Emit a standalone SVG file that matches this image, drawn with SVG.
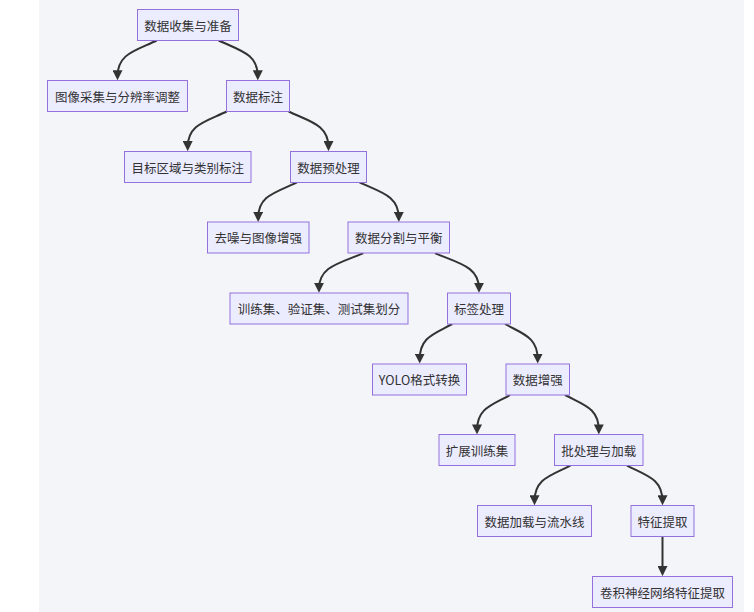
<svg xmlns="http://www.w3.org/2000/svg" width="754" height="612" viewBox="0 0 754 612">
<defs>
<style>
.bg{fill:#f4f5f8}
.node rect{fill:#ececff;stroke:#9370db;stroke-width:1}
.node text{font-family:"Noto Sans CJK SC","Noto Sans",sans-serif;font-size:12.5px;fill:#333;text-anchor:middle;dominant-baseline:central}
.edge{fill:none;stroke:#333;stroke-width:2;marker-end:url(#arr)}
</style>
<marker id="arr" viewBox="0 0 10 10" refX="6" refY="5" markerWidth="10" markerHeight="10" markerUnits="userSpaceOnUse" orient="auto">
<path d="M0,0 L10,5 L0,10 z" fill="#333"/>
</marker>
</defs>
<rect class="bg" x="39" y="0" width="705" height="612"/>
<g id="edges">
<path class="edge" d="M156.7,40.5 C136,50.5 117.5,53.5 117.5,76.3"/>
<path class="edge" d="M218.7,40.5 C239.5,50.5 257.8,53.5 257.8,76.3"/>
<path class="edge" d="M226.7,111.5 C206,121.5 187.7,124.5 187.7,147.1"/>
<path class="edge" d="M288.7,111.5 C309.5,121.5 328.5,124.5 328.5,147.1"/>
<path class="edge" d="M297,182.4 C276,192.4 258.2,195.4 258.2,217.9"/>
<path class="edge" d="M359.5,182.4 C380.5,192.4 398.8,195.4 398.8,217.9"/>
<path class="edge" d="M363.3,253.2 C340,263.2 319,266.2 319,288.8"/>
<path class="edge" d="M435,253.2 C458,263.2 479,266.2 479,288.8"/>
<path class="edge" d="M452.3,324 C434,334 419.7,337 419.7,359.6"/>
<path class="edge" d="M505,324 C523,334 537.7,337 537.7,359.6"/>
<path class="edge" d="M510,395 C492,405 477,408 477,430.4"/>
<path class="edge" d="M565,395 C584,405 598.8,408 598.8,430.4"/>
<path class="edge" d="M570.3,465.7 C550.5,475.7 534.5,478.7 534.5,501.3"/>
<path class="edge" d="M627,465.7 C646.5,475.7 662.5,478.7 662.5,501.3"/>
<path class="edge" d="M662.5,536.6 L662.5,572.1"/>
</g>
<g id="n1" class="node"><rect x="137.5" y="9.5" width="101" height="31"/><text x="188" y="25">数据收集与准备</text></g>
<g id="n2" class="node"><rect x="47.5" y="80.5" width="140" height="31"/><text x="117.5" y="96">图像采集与分辨率调整</text></g>
<g id="n3" class="node"><rect x="226.5" y="80.5" width="63" height="31"/><text x="258" y="96">数据标注</text></g>
<g id="n4" class="node"><rect x="124.5" y="151.5" width="126.5" height="31"/><text x="187.7" y="167">目标区域与类别标注</text></g>
<g id="n5" class="node"><rect x="290.5" y="151.5" width="76" height="31"/><text x="328.5" y="167">数据预处理</text></g>
<g id="n6" class="node"><rect x="207.5" y="222" width="101.5" height="31"/><text x="258.2" y="237.5">去噪与图像增强</text></g>
<g id="n7" class="node"><rect x="348" y="222" width="101.5" height="31"/><text x="398.8" y="237.5">数据分割与平衡</text></g>
<g id="n8" class="node"><rect x="230" y="293" width="178" height="31"/><text x="319" y="308.5">训练集、验证集、测试集划分</text></g>
<g id="n9" class="node"><rect x="447.5" y="293" width="63" height="31"/><text x="479" y="308.5">标签处理</text></g>
<g id="n10" class="node"><rect x="372.5" y="364" width="94" height="31"/><text x="419.5" y="379.5">YOLO格式转换</text></g>
<g id="n11" class="node"><rect x="506" y="364" width="63.5" height="31"/><text x="537.7" y="379.5">数据增强</text></g>
<g id="n12" class="node"><rect x="439" y="434.5" width="76" height="31"/><text x="477" y="450">扩展训练集</text></g>
<g id="n13" class="node"><rect x="554.5" y="434.5" width="88.5" height="31"/><text x="598.8" y="450">批处理与加载</text></g>
<g id="n14" class="node"><rect x="477.5" y="505.5" width="114" height="31"/><text x="534.5" y="521">数据加载与流水线</text></g>
<g id="n15" class="node"><rect x="631" y="505.5" width="63" height="31"/><text x="662.5" y="521">特征提取</text></g>
<g id="n16" class="node"><rect x="592.5" y="576.5" width="140" height="31"/><text x="662.5" y="592">卷积神经网络特征提取</text></g>
</svg>
